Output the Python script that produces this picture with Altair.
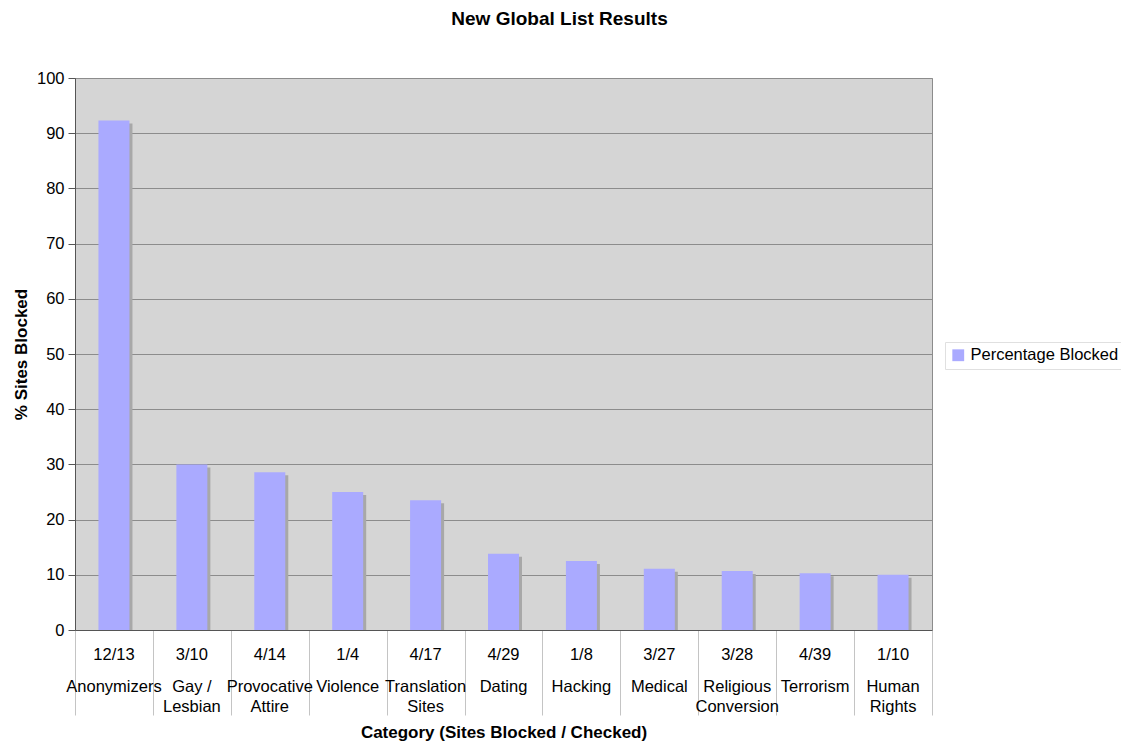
import altair as alt
import pandas as pd

categories = ["Anonymizers", "Gay /\nLesbian", "Provocative\nAttire", "Violence",
              "Translation\nSites", "Dating", "Hacking", "Medical",
              "Religious\nConversion", "Terrorism", "Human\nRights"]
fractions = ["12/13", "3/10", "4/14", "1/4", "4/17", "4/29", "1/8", "3/27",
             "3/28", "4/39", "1/10"]
values = [92.3, 30.0, 28.6, 25.0, 23.5, 13.8, 12.5, 11.1, 10.7, 10.3, 10.0]
series = ["Percentage Blocked"] * len(values)

df = pd.DataFrame({
    "key": fractions,
    "cat": categories,
    "frac": fractions,
    "value": values,
    "series": series,
})

FONT = "Liberation Sans"

x_enc = alt.X(
    "key:N", sort=None,
    scale=alt.Scale(paddingInner=0, paddingOuter=0),
    axis=alt.Axis(labels=False, ticks=True, tickBand="extent", tickSize=85,
                  tickColor="#c4c4c4", domainColor="#555555", grid=False,
                  title="Category (Sites Blocked / Checked)", titleFontSize=17,
                  titleFontWeight="bold", titlePadding=9, titleColor="black"),
)
y_enc = alt.Y(
    "value:Q",
    scale=alt.Scale(domain=[0, 100], nice=False),
    axis=alt.Axis(values=list(range(0, 101, 10)), tickSize=7, labelPadding=4,
                  gridColor="#8c8c8c", domainColor="#555555", tickColor="#555555",
                  labelFontSize=16.5, labelColor="black",
                  title="% Sites Blocked", titleFontSize=17, titleFontWeight="bold",
                  titlePadding=6, titleColor="black"),
)

base = alt.Chart(df)

shadow = base.mark_bar(color="#a8a8a8", size=31, xOffset=3, yOffset=3, clip=True).encode(
    x=x_enc, y=y_enc
)

bars = base.mark_bar(size=31).encode(
    x=x_enc, y=y_enc,
    color=alt.Color("series:N", scale=alt.Scale(range=["#aaaaff"]),
                    legend=alt.Legend(title=None, orient="none", legendX=870,
                                      legendY=264, symbolType="square",
                                      symbolSize=140, symbolStrokeWidth=0,
                                      labelFontSize=16.5, labelColor="black",
                                      strokeColor="#e0e0e0", padding=5,
                                      fillColor="white")),
)

frac_text = base.mark_text(fontSize=16.5, baseline="alphabetic", color="black").encode(
    x=alt.X("key:N", sort=None), y=alt.value(582), text="frac:N"
)

cat_text = base.mark_text(fontSize=16.5, baseline="alphabetic", color="black",
                          lineBreak="\n", lineHeight=20).encode(
    x=alt.X("key:N", sort=None), y=alt.value(614), text="cat:N"
)

chart = alt.layer(shadow, bars, frac_text, cat_text).properties(
    width=857, height=552,
    title=alt.TitleParams("New Global List Results", fontSize=19, fontWeight="bold",
                          anchor="middle", dx=56, offset=41, color="black"),
    autosize=alt.AutoSizeParams(type="none"),
    padding={"left": 75, "top": 78, "right": 189, "bottom": 112},
).configure(font=FONT).configure_view(
    fill="#d5d5d5", stroke="#8c8c8c"
)

chart.save("out.html", embed_options={"renderer": "svg", "actions": False})
